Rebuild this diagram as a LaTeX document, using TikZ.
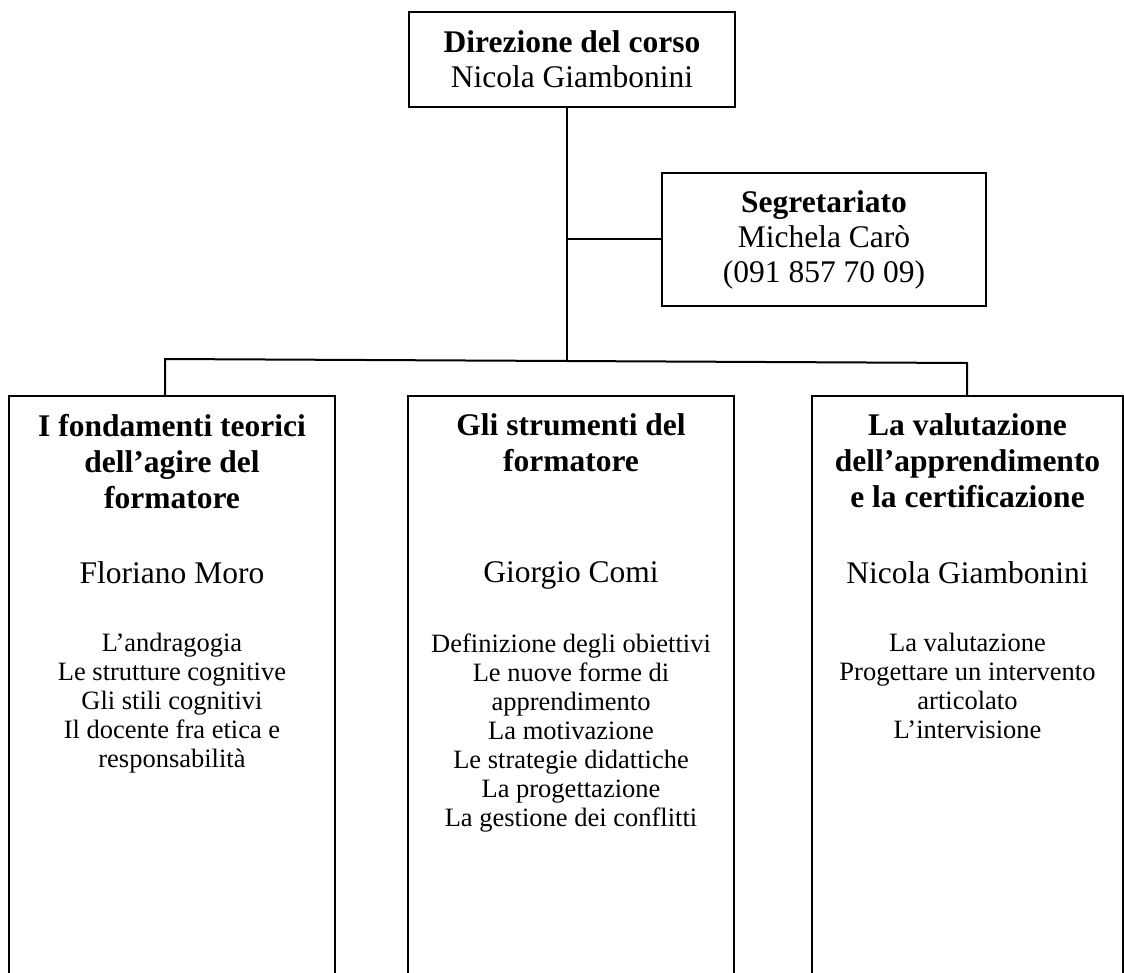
\documentclass[tikz,border=0pt]{standalone}
\usepackage{fontspec}
\setmainfont{Liberation Serif}
\tikzset{
  box/.style={draw, line width=1pt, inner sep=0pt},
  head/.style={font=\fontsize{15.75}{17.5}\selectfont\bfseries, align=center, inner sep=0pt},
  modhead/.style={head, font=\fontsize{15.75}{18}\selectfont\bfseries},
  person/.style={font=\fontsize{15.75}{17.5}\selectfont, inner sep=0pt},
  topics/.style={font=\fontsize{13.25}{14.5}\selectfont, align=center, inner sep=0pt},
  link/.style={line width=1pt},
}
\begin{document}
\begin{tikzpicture}[x=0.5pt, y=-0.5pt]
  \clip (0,0) rectangle (1124,973);
  % top
  \node[box, head, minimum width=163pt, minimum height=47.5pt] (dir) at (572,59.5)
    {Direzione del corso\\\mdseries Nicola Giambonini};
  \node[box, head, minimum width=162pt, minimum height=66.5pt] (segr) at (824,239.5)
    {Segretariato\\\mdseries Michela Carò\\\mdseries (091 857 70 09)};
  \coordinate (bus) at (567,361);
  \coordinate (busL) at (165,359);
  \coordinate (busR) at (967,363);
  % three modules
  \node[box, anchor=north, minimum width=163pt, minimum height=320pt] (modA) at (172,395) {};
  \node[box, anchor=north, minimum width=163pt, minimum height=320pt] (modB) at (571,395) {};
  \node[box, anchor=north, minimum width=155.5pt, minimum height=320pt] (modC) at (967.5,395) {};
  \draw[link] (bus |- dir.south) -- (bus);
  \draw[link] (bus |- segr.west) -- (segr.west);
  \draw[link] (busL |- modA.north) -- (busL) -- (busR) -- (busR |- modC.north);
  % module texts
  \node[modhead, anchor=north] (modAhead) at (172,413.5) {I fondamenti teorici\\dell'agire del\\formatore};
  \node[person, anchor=north] (modAname) at (172,561.5) {Floriano Moro};
  \node[topics, anchor=north] (modAlist) at (172,633)
    {L'andragogia\\Le strutture cognitive\\Gli stili cognitivi\\Il docente fra etica e\\responsabilità};
  \node[modhead, anchor=north] (modBhead) at (571,413.5) {Gli strumenti del\\formatore};
  \node[person, anchor=north] (modBname) at (571,561.5) {Giorgio Comi};
  \node[topics, anchor=north] (modBlist) at (571,633)
    {Definizione degli obiettivi\\Le nuove forme di\\apprendimento\\La motivazione\\Le strategie didattiche\\La progettazione\\La gestione dei conflitti};
  \node[modhead, anchor=north] (modChead) at (967.5,413.5) {La valutazione\\dell'apprendimento\\e la certificazione};
  \node[person, anchor=north] (modCname) at (967.5,561.5) {Nicola Giambonini};
  \node[topics, anchor=north] (modClist) at (967.5,633)
    {La valutazione\\Progettare un intervento\\articolato\\L'intervisione};
\end{tikzpicture}
\end{document}
